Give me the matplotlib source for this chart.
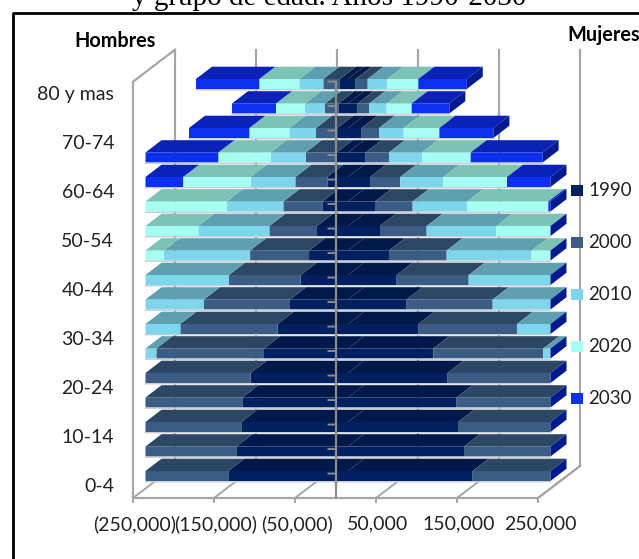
import numpy as np
import matplotlib
matplotlib.use('Agg')
import matplotlib.pyplot as plt
from matplotlib.lines import Line2D
from matplotlib.patches import Rectangle

# grupos de edad, de abajo hacia arriba
grupos = ['0-4', '5-9', '10-14', '15-19', '20-24', '25-29', '30-34', '35-39', '40-44',
          '45-49', '50-54', '55-59', '60-64', '65-69', '70-74', '75-79', '80 y mas']
etiquetas_x = ['(250,000)', '(150,000)', '(50,000)', '50,000', '150,000', '250,000']
ticks_x = [-250000, -150000, -50000, 50000, 150000, 250000]
anios = ['1990', '2000', '2010', '2020', '2030']

# tramos apilados, tal como se leen en la grafica (lo que pasa de 250,000 no se ve)
h1990 = [147700, 137900, 131700, 130400, 120200, 103700, 86800, 71600, 58400,
         48100, 38300, 31700, 25500, 14000, 13200, 11900, 9900]
h2000 = [102900, 112800, 118900, 120200, 130400, 132900, 120200, 106200, 88500,
         72800, 58800, 48100, 39500, 38300, 26300, 16500, 20600]
h2010 = [0, 0, 0, 0, 0, 14000, 43600, 72800, 103700,
         106200, 87700, 70000, 55100, 43200, 32900, 24700, 29600]
h2020 = [0, 0, 0, 0, 0, 0, 0, 0, 0,
         23500, 65800, 100800, 83500, 64600, 49400, 35800, 49400]
h2030 = [0, 0, 0, 0, 0, 0, 0, 0, 0,
         0, 0, 0, 46900, 90500, 74500, 54300, 78200]

m1990 = [153900, 143200, 135800, 134100, 123000, 105300, 86800, 72400, 60100,
         50600, 39500, 33300, 27200, 21800, 16900, 11900, 9500]
m2000 = [96700, 107400, 114800, 116500, 127600, 135800, 121800, 106200, 88900,
         71200, 57600, 46500, 37400, 28800, 21400, 14400, 14800]
m2010 = [0, 0, 0, 0, 0, 9500, 42000, 72000, 101600,
         104900, 86000, 67500, 53100, 40700, 30500, 21400, 24300]
m2020 = [0, 0, 0, 0, 0, 0, 0, 0, 0,
         23900, 67500, 100000, 78600, 60100, 44000, 30900, 38300]
m2030 = [0, 0, 0, 0, 0, 0, 0, 0, 0,
         0, 0, 3300, 54300, 88900, 66700, 46500, 59700]

col_frente = ['#00205f', '#3b5d85', '#7dd6ec', '#a5fff3', '#0d2ff0']
col_arriba = ['#00184a', '#2c4763', '#5e9fb0', '#7cc2b6', '#0a22b8']
col_lado = '#021a8f'
gris = '#a6a6a6'

W, H = 639, 559
ESC = 0.00081      # pixeles por persona
PITCH = 24.5       # pixeles por grupo
X0, Y0 = 348, 476  # donde cae el cero de las barras
ALTO = 10 / PITCH
DX_BAR, DY_BAR = 16 / ESC, 12.3 / PITCH    # fondo de cada barra
DX_EJE, DY_EJE = 42 / ESC, 32 / PITCH      # fondo del piso
X_EJE = -12.5 / ESC                        # plano frontal del eje
Y_PISO = -22 / PITCH
Y_TOPE = (Y0 - 81.7) / PITCH
LIM = 250000


def texto(x, y, s, **kw):
    fig.text(x / W, 1 - y / H, s, **kw)


fig = plt.figure(figsize=(W / 100, H / 100), dpi=100)
plt.rcParams['font.family'] = ['Lato', 'DejaVu Sans']
ax = fig.add_axes([0, 0, 1, 1])
ax.set_xlim(-X0 / ESC, (W - X0) / ESC)
ax.set_ylim((Y0 - H) / PITCH, Y0 / PITCH)
ax.axis('off')

# piso y paredes
x_izq, x_der = X_EJE - LIM, X_EJE + LIM
ax.plot([x_izq, x_izq, x_izq + DX_EJE], [Y_PISO, Y_TOPE, Y_TOPE + DY_EJE], color=gris, lw=1.6, zorder=1)
ax.plot([x_izq, x_der, x_der + DX_EJE], [Y_PISO, Y_PISO, Y_PISO + DY_EJE], color=gris, lw=1.6, zorder=1)
for t in ticks_x:
    ax.plot([X_EJE + t, X_EJE + t], [Y_PISO, Y_PISO - 4 / PITCH], color=gris, lw=1.4, zorder=1)
    ax.plot([X_EJE + t, X_EJE + t + DX_EJE], [Y_PISO, Y_PISO + DY_EJE], color=gris, lw=1.4, zorder=1)
    ax.plot([X_EJE + t + DX_EJE] * 2, [Y_PISO + DY_EJE, Y_TOPE + DY_EJE], color=gris, lw=1.6, zorder=1)


# lado = -1 hombres, 1 mujeres
def piramide(lado, series):
    base = np.zeros(len(grupos))
    for k, valores in enumerate(series):
        fin = np.minimum(base + np.array(valores), LIM)
        ini = lado * base
        ancho = lado * (fin - base)
        barras = ax.barh(np.arange(len(grupos)), ancho, left=ini, height=ALTO,
                         color=col_frente[k], edgecolor='none', zorder=3)
        for b in barras:
            b.set_snap(False)
        for i in range(len(grupos)):
            if ancho[i] == 0:
                continue
            a, b = ini[i], ini[i] + ancho[i]
            ytop = i + ALTO / 2
            ax.fill([a, b, b + DX_BAR, a + DX_BAR], [ytop, ytop, ytop + DY_BAR, ytop + DY_BAR],
                    color=col_arriba[k], lw=0, zorder=3, snap=False)
        base = fin
    return base


hombres = piramide(-1, [h1990, h2000, h2010, h2020, h2030])
mujeres = piramide(1, [m1990, m2000, m2010, m2020, m2030])

# cara lateral derecha y bordes claros de cada barra
for i in range(len(grupos)):
    b = mujeres[i]
    y0, y1 = i - ALTO / 2, i + ALTO / 2
    ax.fill([b, b + DX_BAR, b + DX_BAR, b],
            [y0, y0 + DY_BAR, y1 + DY_BAR, y1], color=col_lado, lw=0, zorder=3, snap=False)
    ax.plot([-hombres[i], b], [y0 - 0.03, y0 - 0.03], color='#c9ccd4', lw=1.0, zorder=3, snap=False)

# eje vertical encima de las barras
ax.plot([X_EJE, X_EJE], [Y_PISO, Y_TOPE], color='#8c8c8c', lw=1.6, zorder=4)
for i in range(len(grupos)):
    ax.plot([X_EJE - 7 / ESC, X_EJE], [i + 0.1, i + 0.1], color='#8c8c8c', lw=1.4, zorder=4, snap=False)

# textos
for i in range(0, len(grupos), 2):
    ax.text(-234 / ESC, i - 0.42, grupos[i], ha='right', va='center', fontsize=14, color='#222222')
for t, s in zip(ticks_x, etiquetas_x):
    ax.text(X_EJE + t + 2 / ESC, Y_PISO - 26 / PITCH, s, ha='center', va='center', fontsize=14, color='#222222')

texto(115, 41, 'Hombres', ha='center', va='center', fontsize=14.3, fontweight='bold', color='black')
texto(604, 35, 'Mujeres', ha='center', va='center', fontsize=14.3, fontweight='bold', color='black')
texto(329, 5, 'y grupo de edad. Años 1990-2030', ha='center', va='baseline',
      fontsize=21, family='Liberation Serif', color='black')

for k, anio in enumerate(anios):
    y = 190.5 + 52 * k
    fig.add_artist(Rectangle((571 / W, 1 - (y + 5.5) / H), 12 / W, 11 / H, transform=fig.transFigure,
                             facecolor=col_frente[k], edgecolor='none'))
    texto(588, y, anio, ha='left', va='center', fontsize=13.5, color='#222222')

# marco de la imagen
fig.add_artist(Line2D([13 / W, 13 / W, 1], [0, 1 - 13 / H, 1 - 13 / H], color='black', lw=2))

fig.savefig('out.png', dpi=100)
